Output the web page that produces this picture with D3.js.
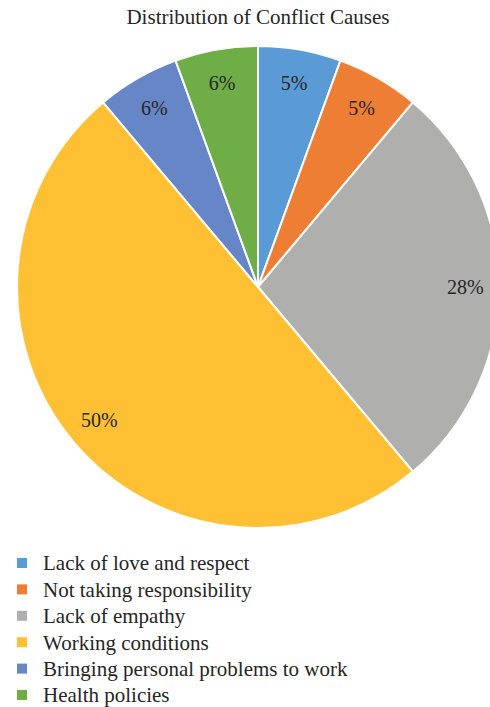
<!DOCTYPE html>
<html>
<head>
<meta charset="utf-8">
<script src="https://cdn.jsdelivr.net/npm/d3@7"></script>
<style>
  body { margin: 0; background: #fff; }
  svg { display: block; }
  text { font-family: "Liberation Serif", "DejaVu Serif", serif; fill: #262626; }
</style>
</head>
<body>
<div id="chart"></div>
<script>
// chart data
var causes = ["Lack of love and respect", "Not taking responsibility", "Lack of empathy",
  "Working conditions", "Bringing personal problems to work", "Health policies"];
var counts = [1, 1, 5, 9, 1, 1];
var pctLabels = ["5%", "5%", "28%", "50%", "6%", "6%"];
var colors = ["#5b9bd5", "#ee7e33", "#afb0ae", "#ffc133", "#6686c7", "#6fad47"];

var svgWidth = 490, svgHeight = 707;
var cx = 258, cy = 287, radius = 241;

var svg = d3.select("#chart").append("svg")
  .attr("width", svgWidth)
  .attr("height", svgHeight);

// title
svg.append("text")
  .attr("x", 258)
  .attr("y", 24)
  .attr("text-anchor", "middle")
  .style("font-size", "21px")
  .text("Distribution of Conflict Causes");

var pie = d3.pie().sort(null).value(d => d);
var arcs = pie(counts);

var arc = d3.arc().innerRadius(0).outerRadius(radius);
var labelArc = d3.arc().innerRadius(radius * 0.86).outerRadius(radius * 0.86);

var pieGroup = svg.append("g")
  .attr("transform", `translate(${cx}, ${cy})`);

pieGroup.selectAll("path")
  .data(arcs)
  .enter()
  .append("path")
  .attr("d", arc)
  .attr("fill", (d, i) => colors[i])
  .attr("stroke", "#fff")
  .attr("stroke-width", 2);

pieGroup.selectAll(".lbl")
  .data(arcs)
  .enter()
  .append("text")
  .attr("class", "lbl")
  .attr("transform", d => `translate(${labelArc.centroid(d)})`)
  .attr("text-anchor", "middle")
  .attr("dy", "0.35em")
  .style("font-size", "20px")
  .text((d, i) => pctLabels[i]);

// legend
var legend = svg.append("g")
  .attr("transform", "translate(17, 563)");

var rows = legend.selectAll("g")
  .data(causes)
  .enter()
  .append("g")
  .attr("transform", (d, i) => `translate(0, ${i * 26.4})`);

rows.append("rect")
  .attr("x", 0)
  .attr("y", -5)
  .attr("width", 10)
  .attr("height", 10)
  .attr("fill", (d, i) => colors[i]);

rows.append("text")
  .attr("x", 26)
  .attr("dy", "0.35em")
  .style("font-size", "21px")
  .text(d => d);
</script>
</body>
</html>
